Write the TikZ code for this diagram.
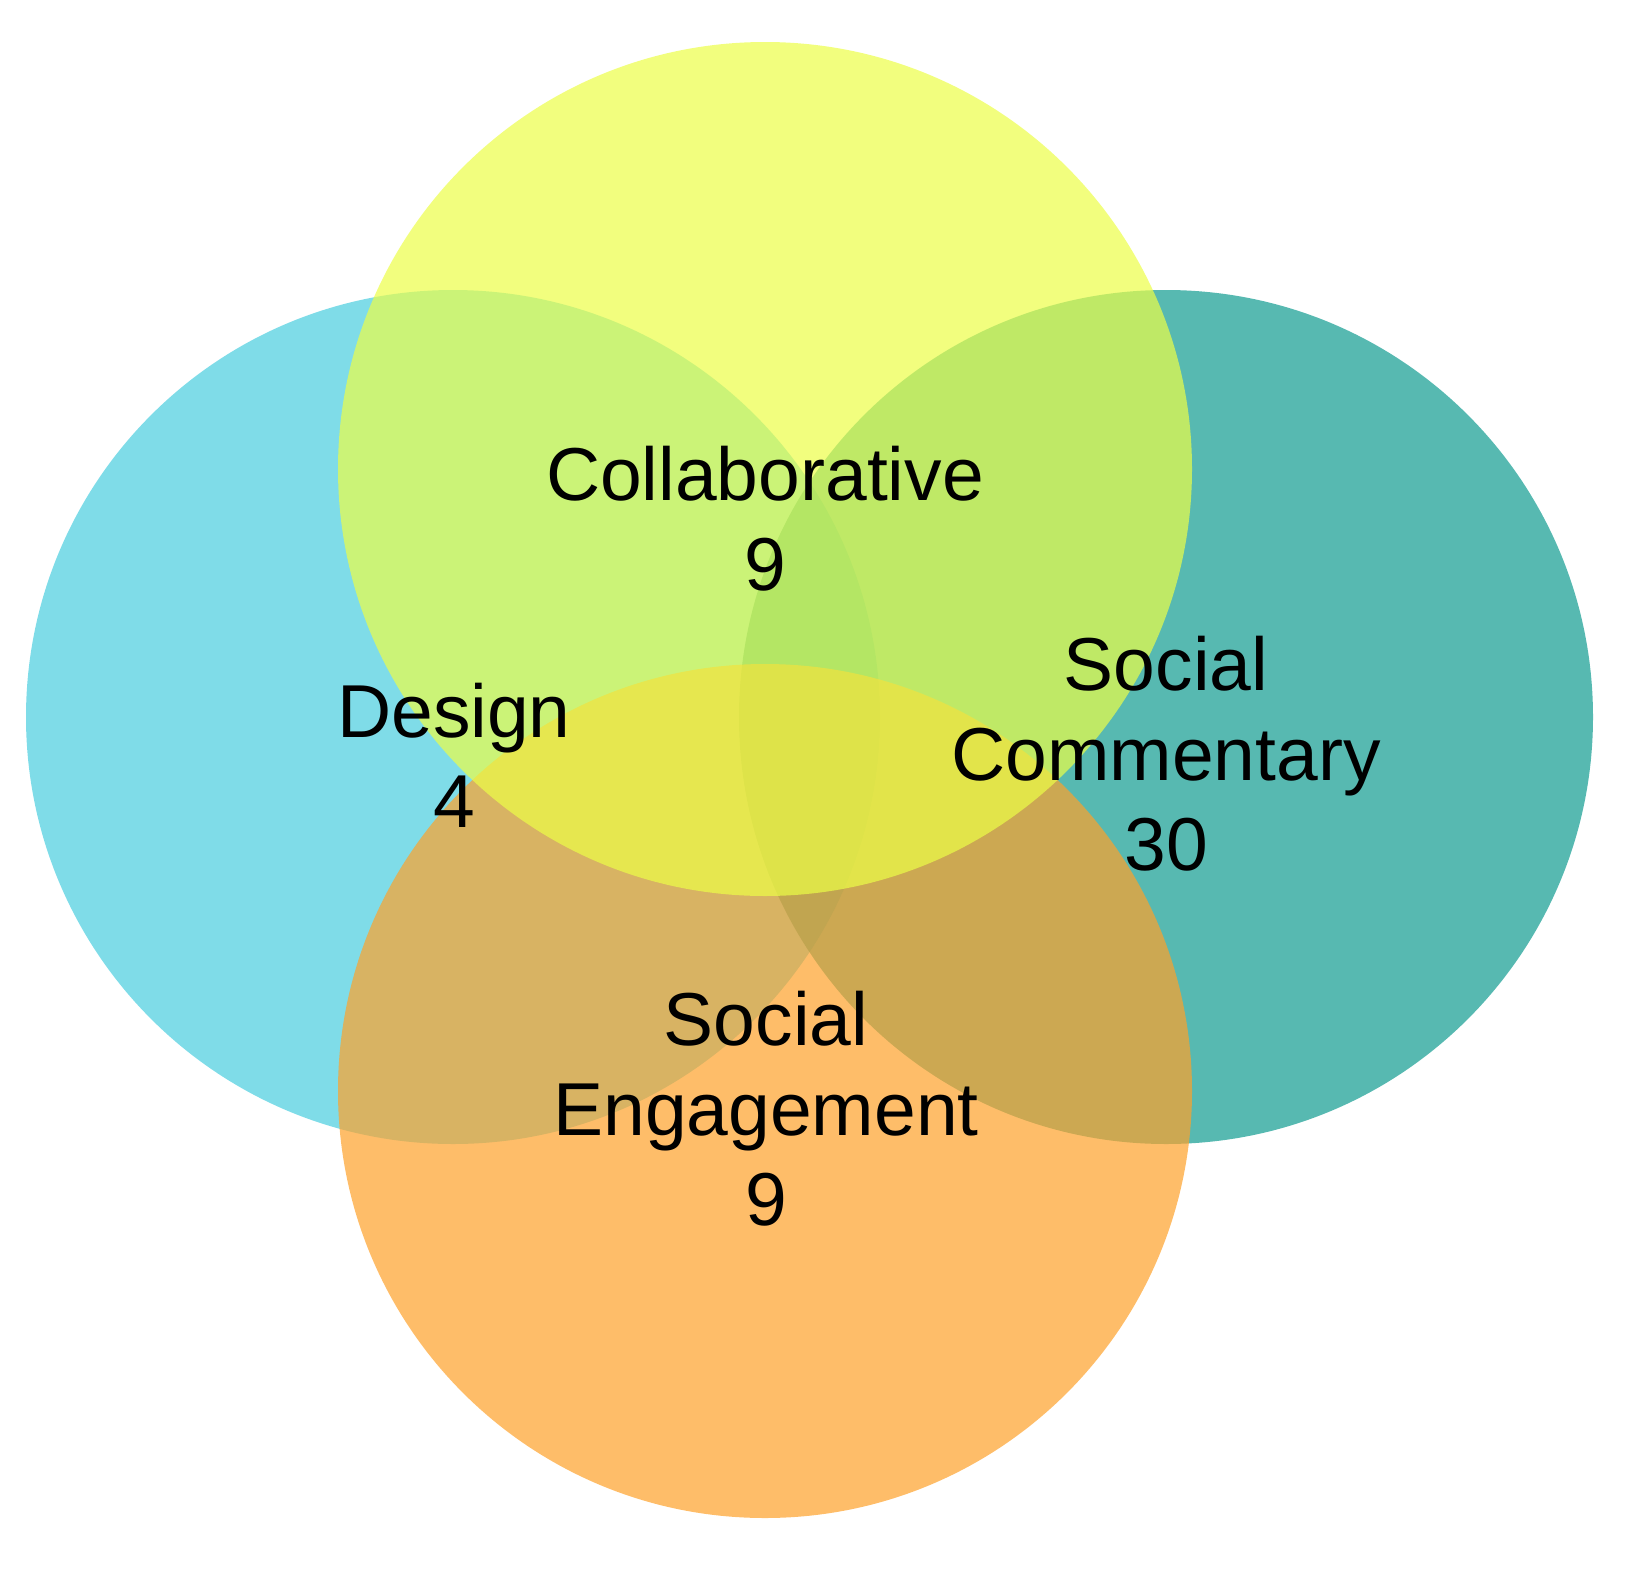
\documentclass[tikz,border=0pt]{standalone}
\usepackage{fontspec}
\setmainfont{Liberation Sans}
\definecolor{corDesign}{RGB}{72,205,222}
\definecolor{corColab}{RGB}{236,254,71}
\definecolor{corComent}{RGB}{16,155,144}
\definecolor{corEngaj}{RGB}{254,161,42}
\begin{document}
\begin{tikzpicture}[
  x=0.5pt, y=-0.5pt,
  conjunto/.style={fill opacity=0.7},
  rotulo/.style={align=center, inner sep=0pt, anchor=base, font=\fontsize{37.5}{45}\selectfont}
]
\useasboundingbox (0,0) rectangle (1627,1579);
\fill[conjunto, fill=corDesign] (453,717) circle[radius=213.5pt];
\fill[conjunto, fill=corComent] (1166,717) circle[radius=213.5pt];
\fill[conjunto, fill=corEngaj] (765,1091) circle[radius=213.5pt];
\fill[conjunto, fill=corColab] (765,469) circle[radius=213.5pt];
\node[rotulo] (design) at (454,827) {Design\\4};
\node[rotulo] (colab) at (765,590) {Collaborative\\9};
\node[rotulo] (coment) at (1166,870) {Social\\Commentary\\30};
\node[rotulo] (engaj) at (766,1225) {Social\\Engagement\\9};
\end{tikzpicture}
\end{document}
